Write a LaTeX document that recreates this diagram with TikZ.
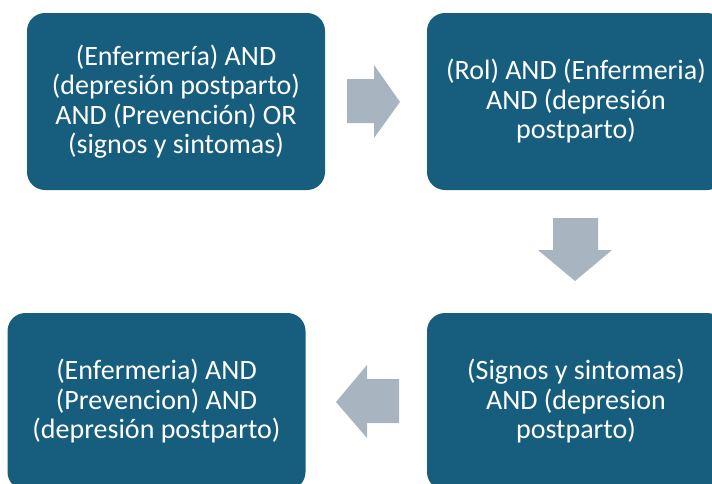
\documentclass[tikz,border=0pt]{standalone}
\usepackage{fontspec}
\setmainfont{Carlito}
\definecolor{boxblue}{RGB}{23,94,126}
\definecolor{arrowgray}{RGB}{168,180,192}
\begin{document}
\begin{tikzpicture}[x=1pt,y=-1pt,
  stepbox/.style={fill=boxblue, rounded corners=18pt, minimum width=298pt, minimum height=177pt,
    text=white, align=center, inner sep=0pt, font=\fontsize{28}{29.5}\selectfont},
  blockarrow/.style={fill=arrowgray, draw=none}]
\useasboundingbox (0,0) rectangle (712,483);
\clip (0,0) rectangle (712,483);
\node[stepbox] (b1) at (176,101.5) {(Enfermería) AND\\(depresión postparto)\\AND (Prevención) OR\\(signos y sintomas)};
\node[stepbox] (b2) at (576,101.5) {(Rol) AND (Enfermeria)\\AND (depresión\\postparto)};
\node[stepbox] (b3) at (576,401.5) {(Signos y sintomas)\\AND (depresion\\postparto)};
\node[stepbox] (b4) at (156.5,401.5) {(Enfermeria) AND\\(Prevencion) AND\\(depresión postparto)};
% right arrow b1 -> b2
\fill[blockarrow] (347,79) -- (374,79) -- (374,65) -- (400,102) -- (374,138) -- (374,123) -- (347,123) -- cycle;
% down arrow b2 -> b3
\fill[blockarrow] (553,218) -- (598,218) -- (598,250) -- (612,250) -- (575,281) -- (538,250) -- (553,250) -- cycle;
% left arrow b3 -> b4
\fill[blockarrow] (399,379) -- (367,379) -- (367,365) -- (336,402) -- (367,438) -- (367,423) -- (399,423) -- cycle;
\end{tikzpicture}
\end{document}
